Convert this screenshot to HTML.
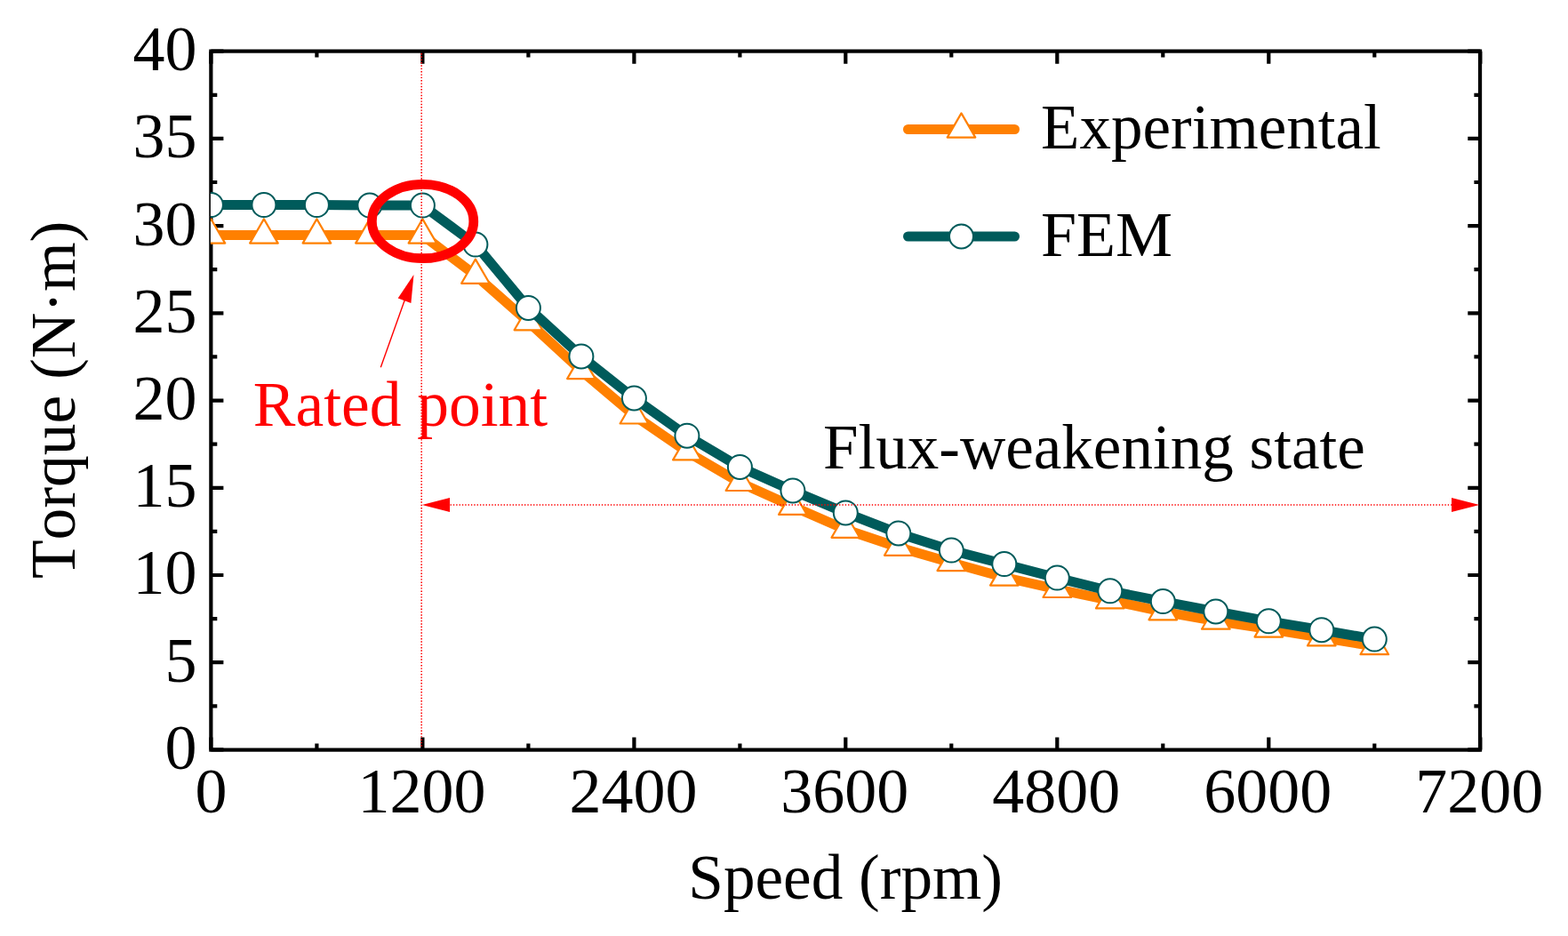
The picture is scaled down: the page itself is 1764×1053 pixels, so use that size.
<!DOCTYPE html>
<html lang="en"><head><meta charset="utf-8"><title>Torque-speed curve</title>
<style>
html,body{margin:0;padding:0;background:#fff;}
body{width:1764px;height:1053px;overflow:hidden;}
svg{display:block;}
text{font-family:"Liberation Serif","Times New Roman",serif;font-size:72px;font-kerning:none;}
</style></head><body>
<svg width="1764" height="1053" viewBox="0 0 1764 1053">
<rect width="1764" height="1053" fill="#fff"/>
<g stroke="#000" fill="none" stroke-width="4.2">
<rect x="237.35" y="57.60" width="1427.70" height="786.00"/>
<path d="M237.4 843.4v-14.0M237.4 57.7v14.0M356.4 843.4v-6.9M356.4 57.7v6.9M475.4 843.4v-14.0M475.4 57.7v14.0M594.4 843.4v-6.9M594.4 57.7v6.9M713.4 843.4v-14.0M713.4 57.7v14.0M832.4 843.4v-6.9M832.4 57.7v6.9M951.3 843.4v-14.0M951.3 57.7v14.0M1070.3 843.4v-6.9M1070.3 57.7v6.9M1189.3 843.4v-14.0M1189.3 57.7v14.0M1308.3 843.4v-6.9M1308.3 57.7v6.9M1427.3 843.4v-14.0M1427.3 57.7v14.0M1546.3 843.4v-6.9M1546.3 57.7v6.9M1665.3 843.4v-14.0M1665.3 57.7v14.0M237.4 843.4h14.0M1665.3 843.4h-14.0M237.4 794.3h6.9M1665.3 794.3h-6.9M237.4 745.2h14.0M1665.3 745.2h-14.0M237.4 696.1h6.9M1665.3 696.1h-6.9M237.4 647.0h14.0M1665.3 647.0h-14.0M237.4 597.9h6.9M1665.3 597.9h-6.9M237.4 548.8h14.0M1665.3 548.8h-14.0M237.4 499.7h6.9M1665.3 499.7h-6.9M237.4 450.6h14.0M1665.3 450.6h-14.0M237.4 401.4h6.9M1665.3 401.4h-6.9M237.4 352.3h14.0M1665.3 352.3h-14.0M237.4 303.2h6.9M1665.3 303.2h-6.9M237.4 254.1h14.0M1665.3 254.1h-14.0M237.4 205.0h6.9M1665.3 205.0h-6.9M237.4 155.9h14.0M1665.3 155.9h-14.0M237.4 106.8h6.9M1665.3 106.8h-6.9M237.4 57.7h14.0M1665.3 57.7h-14.0"/>
</g>
<defs><clipPath id="c"><rect x="236.9" y="57.7" width="1428.4" height="785.7"/></clipPath></defs>
<g clip-path="url(#c)" stroke-linejoin="round">
<polyline points="237.4,264.5 296.9,264.5 356.4,264.5 415.9,264.5 475.4,264.5 534.9,309.7 594.4,362.2 653.9,417.0 713.4,467.4 772.9,508.3 832.4,542.9 891.9,569.8 951.3,595.7 1010.8,615.7 1070.3,633.0 1129.8,649.5 1189.3,662.9 1248.8,675.3 1308.3,688.2 1367.8,698.6 1427.3,707.5 1486.8,717.3 1546.3,727.1" fill="none" stroke="#FF8000" stroke-width="11.0"/>
<g fill="#fff" stroke="#FF8000" stroke-width="2.2">
<path d="M237.4 246.4L253.2 273.6L221.6 273.6Z"/>
<path d="M296.9 246.4L312.7 273.6L281.1 273.6Z"/>
<path d="M356.4 246.4L372.2 273.6L340.6 273.6Z"/>
<path d="M415.9 246.4L431.7 273.6L400.1 273.6Z"/>
<path d="M475.4 246.4L491.2 273.6L459.6 273.6Z"/>
<path d="M534.9 291.6L550.7 318.8L519.1 318.8Z"/>
<path d="M594.4 344.1L610.2 371.3L578.6 371.3Z"/>
<path d="M653.9 398.9L669.7 426.1L638.1 426.1Z"/>
<path d="M713.4 449.3L729.2 476.5L697.6 476.5Z"/>
<path d="M772.9 490.2L788.7 517.4L757.1 517.4Z"/>
<path d="M832.4 524.8L848.2 552.0L816.6 552.0Z"/>
<path d="M891.9 551.7L907.7 578.9L876.1 578.9Z"/>
<path d="M951.3 577.6L967.1 604.8L935.5 604.8Z"/>
<path d="M1010.8 597.6L1026.6 624.8L995.0 624.8Z"/>
<path d="M1070.3 614.9L1086.1 642.1L1054.5 642.1Z"/>
<path d="M1129.8 631.4L1145.6 658.6L1114.0 658.6Z"/>
<path d="M1189.3 644.8L1205.1 672.0L1173.5 672.0Z"/>
<path d="M1248.8 657.2L1264.6 684.4L1233.0 684.4Z"/>
<path d="M1308.3 670.1L1324.1 697.3L1292.5 697.3Z"/>
<path d="M1367.8 680.5L1383.6 707.7L1352.0 707.7Z"/>
<path d="M1427.3 689.4L1443.1 716.6L1411.5 716.6Z"/>
<path d="M1486.8 699.2L1502.6 726.4L1471.0 726.4Z"/>
<path d="M1546.3 709.0L1562.1 736.2L1530.5 736.2Z"/>
</g>
<polyline points="237.4,230.6 296.9,230.6 356.4,230.6 415.9,231.1 475.4,231.1 534.9,275.1 594.4,346.4 653.9,400.9 713.4,448.0 772.9,490.2 832.4,525.4 891.9,551.9 951.3,576.9 1010.8,600.0 1070.3,619.1 1129.8,634.6 1189.3,650.1 1248.8,664.8 1308.3,676.6 1367.8,688.0 1427.3,698.8 1486.8,708.7 1546.3,719.1" fill="none" stroke="#005B5B" stroke-width="11.0"/>
<g fill="#fff" stroke="#005B5B" stroke-width="2">
<circle cx="237.4" cy="230.6" r="13.5"/>
<circle cx="296.9" cy="230.6" r="13.5"/>
<circle cx="356.4" cy="230.6" r="13.5"/>
<circle cx="415.9" cy="231.1" r="13.5"/>
<circle cx="475.4" cy="231.1" r="13.5"/>
<circle cx="534.9" cy="275.1" r="13.5"/>
<circle cx="594.4" cy="346.4" r="13.5"/>
<circle cx="653.9" cy="400.9" r="13.5"/>
<circle cx="713.4" cy="448.0" r="13.5"/>
<circle cx="772.9" cy="490.2" r="13.5"/>
<circle cx="832.4" cy="525.4" r="13.5"/>
<circle cx="891.9" cy="551.9" r="13.5"/>
<circle cx="951.3" cy="576.9" r="13.5"/>
<circle cx="1010.8" cy="600.0" r="13.5"/>
<circle cx="1070.3" cy="619.1" r="13.5"/>
<circle cx="1129.8" cy="634.6" r="13.5"/>
<circle cx="1189.3" cy="650.1" r="13.5"/>
<circle cx="1248.8" cy="664.8" r="13.5"/>
<circle cx="1308.3" cy="676.6" r="13.5"/>
<circle cx="1367.8" cy="688.0" r="13.5"/>
<circle cx="1427.3" cy="698.8" r="13.5"/>
<circle cx="1486.8" cy="708.7" r="13.5"/>
<circle cx="1546.3" cy="719.1" r="13.5"/>
</g>
</g>
<g stroke="#FF0000" stroke-width="1.6" stroke-dasharray="1.4 1.94" fill="none">
<path d="M474.2 60.0V841.1"/>
<path d="M506.5 568H1633"/>
</g>
<g text-anchor="end">
<text transform="translate(221.5 865.1) scale(1.0000 1.0050)">0</text>
<text transform="translate(221.5 766.8) scale(1.0000 1.0050)">5</text>
<text transform="translate(221.5 668.1) scale(1.0000 1.0050)">10</text>
<text transform="translate(221.5 570.0) scale(1.0000 1.0050)">15</text>
<text transform="translate(221.5 472.1) scale(1.0000 1.0050)">20</text>
<text transform="translate(221.5 373.8) scale(1.0000 1.0050)">25</text>
<text transform="translate(221.5 275.5) scale(1.0000 1.0050)">30</text>
<text transform="translate(221.5 177.3) scale(1.0000 1.0050)">35</text>
<text transform="translate(221.5 79.0) scale(1.0000 1.0050)">40</text>
</g>
<g text-anchor="middle">
<text transform="translate(237.4 913.7) scale(1.0000 1.0090)">0</text>
<text transform="translate(474.4 913.7) scale(1.0000 1.0090)">1200</text>
<text transform="translate(712.4 913.7) scale(1.0000 1.0090)">2400</text>
<text transform="translate(950.3 913.7) scale(1.0000 1.0090)">3600</text>
<text transform="translate(1188.3 913.7) scale(1.0000 1.0090)">4800</text>
<text transform="translate(1426.3 913.7) scale(1.0000 1.0090)">6000</text>
<text transform="translate(1664.3 913.7) scale(1.0000 1.0090)">7200</text>
</g>
<text transform="translate(774.3 1011.0) scale(0.9886 1.0000)">Speed (rpm)</text>
<text transform="translate(84.0 651.0) rotate(-90) scale(0.9916 1.0000)">Torque (N·m)</text>
<g fill="none" stroke-linecap="round" stroke-width="11.0">
<path d="M1021.5 145.5H1141.5" stroke="#FF8000"/>
<path d="M1021.5 266H1141.5" stroke="#005B5B"/>
</g>
<g fill="#fff" stroke="#FF8000" stroke-width="2.2" stroke-linejoin="round"><path d="M1081.5 127.4L1097.3 154.6L1065.7 154.6Z"/></g>
<g fill="#fff" stroke="#005B5B" stroke-width="2"><circle cx="1081.5" cy="266.0" r="13.5"/></g>
<text transform="translate(1171.1 166.8) scale(0.9867 1.0000)">Experimental</text>
<text transform="translate(1170.9 287.6)">FEM</text>
<text transform="translate(925.9 526.8) scale(0.9873 1.0000)">Flux-weakening state</text>
<text transform="translate(284.8 478.7) scale(0.9925 1.0000)" fill="#FF0000">Rated point</text>
<ellipse cx="475.6" cy="249" rx="57.2" ry="41.7" fill="none" stroke="#FF0000" stroke-width="10.7"/>
<g fill="#FF0000">
<path d="M428.3 413.3L458 330" stroke="#FF0000" stroke-width="1.4"/>
<path d="M465.5 309.1L447.7 335.6L462.4 341.1Z"/>
<path d="M474.8 568L506 560.1L506 575.9Z"/>
<path d="M1664.3 568L1633 560.1L1633 575.9Z"/>
</g>
</svg>
</body></html>
